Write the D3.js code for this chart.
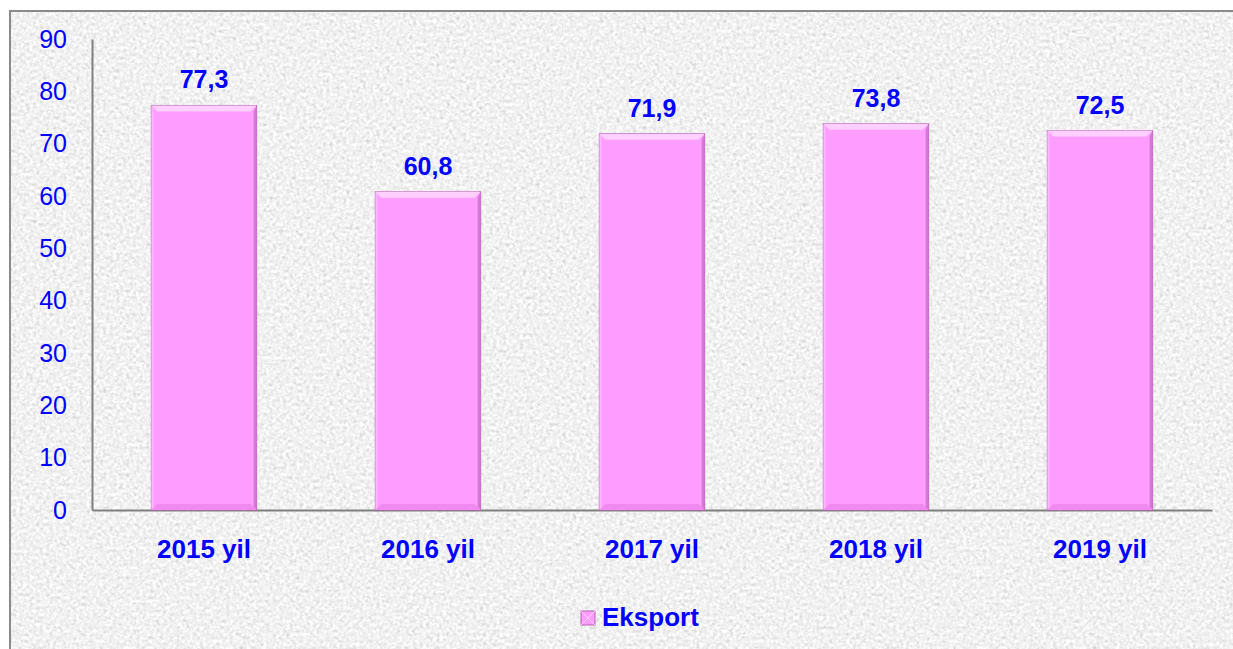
<!DOCTYPE html>
<html>
<head>
<meta charset="utf-8">
<script src="https://cdn.jsdelivr.net/npm/d3@7"></script>
<style>
  body { margin: 0; background: #fff; }
  svg { display: block; }
</style>
</head>
<body>
<div id="chart"></div>
<script>
// data
const years = ["2015 yil", "2016 yil", "2017 yil", "2018 yil", "2019 yil"];
const eksport = [77.3, 60.8, 71.9, 73.8, 72.5];
const yTicks = [0, 10, 20, 30, 40, 50, 60, 70, 80, 90];
const seriesName = "Eksport";

const width = 1233, height = 649;
const blue = "#0000ff";
const font = "Arial, 'Liberation Sans', sans-serif";

const svg = d3.select("#chart").append("svg")
  .attr("width", width)
  .attr("height", height);

const defs = svg.append("defs");

// grainy paper texture
const filt = defs.append("filter").attr("id", "grain")
  .attr("x", 0).attr("y", 0).attr("width", "100%").attr("height", "100%");
filt.append("feTurbulence")
  .attr("type", "fractalNoise")
  .attr("baseFrequency", 0.3)
  .attr("numOctaves", 3)
  .attr("seed", 4)
  .attr("result", "noise");
filt.append("feColorMatrix")
  .attr("in", "noise")
  .attr("type", "matrix")
  .attr("values", "0.33 0.33 0.33 0 0  0.33 0.33 0.33 0 0  0.33 0.33 0.33 0 0  0 0 0 0 1")
  .attr("result", "gray");
const ct = filt.append("feComponentTransfer").attr("in", "gray");
["feFuncR", "feFuncG", "feFuncB"].forEach(f =>
  ct.append(f).attr("type", "linear").attr("slope", 0.85).attr("intercept", 0.46));

// background panel with border
svg.append("rect")
  .attr("x", 10).attr("y", 11)
  .attr("width", width).attr("height", height)
  .attr("filter", "url(#grain)");
svg.append("path")
  .attr("d", `M10,${height} V11 H${width}`)
  .attr("fill", "none")
  .attr("stroke", "#8a8a8a")
  .attr("stroke-width", 2);

// scales
const margin = { left: 92, right: 1212, top: 39, bottom: 510 };
const x = d3.scaleBand()
  .domain(years)
  .range([margin.left, margin.right])
  .paddingInner(0.53)
  .paddingOuter(0.265);
const y = d3.scaleLinear().domain([0, 90]).range([margin.bottom, margin.top]);

// y axis
const yAxis = svg.append("g")
  .attr("transform", `translate(${margin.left},0)`)
  .call(d3.axisLeft(y).tickValues(yTicks).tickSize(0).tickPadding(25));
yAxis.select(".domain").attr("stroke", "#808080").attr("stroke-width", 2);
yAxis.selectAll("text")
  .attr("fill", blue)
  .style("font-family", font)
  .style("font-size", "25px");

// x axis
const xAxis = svg.append("g")
  .attr("transform", `translate(0,${margin.bottom})`)
  .call(d3.axisBottom(x).tickSize(0).tickPadding(30));
xAxis.select(".domain").attr("stroke", "#808080").attr("stroke-width", 2);
xAxis.selectAll("text")
  .attr("fill", blue)
  .style("font-family", font)
  .style("font-size", "26px")
  .style("font-weight", "bold");

// bars with bevel
const bars = svg.append("g").selectAll("g")
  .data(years.map((d, i) => ({ year: d, value: eksport[i] })))
  .join("g");

bars.append("rect")
  .attr("x", d => x(d.year))
  .attr("y", d => y(d.value))
  .attr("width", x.bandwidth())
  .attr("height", d => y(0) - y(d.value))
  .attr("fill", "#ff9cff")
  .attr("stroke", "#b060b0")
  .attr("stroke-width", 1);

const bev = 6;
// top highlight
bars.append("path")
  .attr("d", d => {
    const x0 = x(d.year), x1 = x0 + x.bandwidth(), y0 = y(d.value);
    return `M${x0},${y0} H${x1} L${x1 - bev},${y0 + bev} H${x0 + bev} Z`;
  })
  .attr("fill", "#ffd0ff");
// right shade
bars.append("path")
  .attr("d", d => {
    const x0 = x(d.year), x1 = x0 + x.bandwidth(), y0 = y(d.value), y1 = y(0);
    return `M${x1},${y0} V${y1} L${x1 - 3},${y1 - 3} V${y0 + bev} Z`;
  })
  .attr("fill", "#d478d4");
// bottom shade
bars.append("path")
  .attr("d", d => {
    const x0 = x(d.year), x1 = x0 + x.bandwidth(), y1 = y(0);
    return `M${x0},${y1} H${x1} L${x1 - bev},${y1 - bev} H${x0 + bev} Z`;
  })
  .attr("fill", "#f08af0");
// left light edge
bars.append("path")
  .attr("d", d => {
    const x0 = x(d.year), y0 = y(d.value), y1 = y(0);
    return `M${x0},${y0} V${y1} L${x0 + 2},${y1 - 2} V${y0 + 2} Z`;
  })
  .attr("fill", "#ffb8ff");

// value labels
bars.append("text")
  .attr("x", d => x(d.year) + x.bandwidth() / 2)
  .attr("y", d => y(d.value) - 17)
  .attr("text-anchor", "middle")
  .attr("fill", blue)
  .style("font-family", font)
  .style("font-size", "25px")
  .style("font-weight", "bold")
  .text(d => d3.format(".1f")(d.value).replace(".", ","));

// legend
const legend = svg.append("g").attr("transform", "translate(581,611)");
legend.append("rect")
  .attr("width", 14).attr("height", 14)
  .attr("fill", "#ff9cff")
  .attr("stroke", "#b060b0");
legend.append("path")
  .attr("d", "M0,0 L14,14 M14,0 L0,14")
  .attr("stroke", "#ffd0ff")
  .attr("stroke-width", 1);
legend.append("text")
  .attr("x", 21).attr("y", 15)
  .attr("fill", blue)
  .style("font-family", font)
  .style("font-size", "26px")
  .style("font-weight", "bold")
  .text(seriesName);
</script>
</body>
</html>
